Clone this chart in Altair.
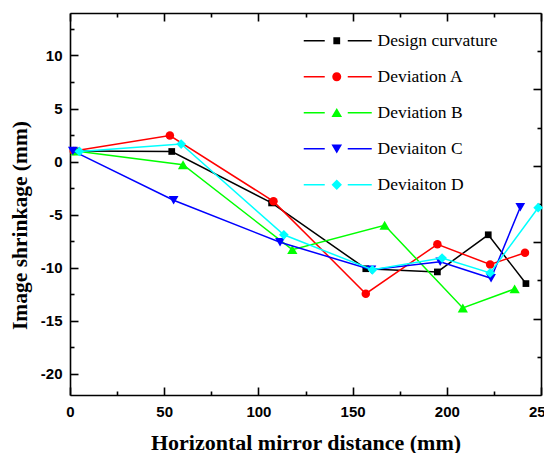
import altair as alt
import pandas as pd

# ---------------- data ----------------
series_names = ["Design curvature", "Deviation A", "Deviation B", "Deviaiton C", "Deviaiton D"]
series_colors = ["#000000", "#FF0000", "#00FF00", "#0000FF", "#00FFFF"]
series_shapes = ["square", "circle", "triangle-up", "triangle-down", "diamond"]
series_sizes = [45, 72, 105, 95, 95]

design_x = [3, 54, 107, 157, 195, 222, 242]
design_y = [1.0, 0.95, -3.9, -10.1, -10.4, -6.9, -11.5]
dev_a_x = [2, 53, 108, 157, 195, 223, 241.5]
dev_a_y = [1.0, 2.45, -3.75, -12.45, -7.8, -9.7, -8.6]
dev_b_x = [3, 60, 118, 167, 208.5, 236]
dev_b_y = [1.0, -0.3, -8.3, -6.0, -13.8, -12.0]
dev_c_x = [1.5, 55, 111.5, 160, 196.5, 223.5, 239]
dev_c_y = [1.0, -3.65, -7.6, -10.2, -9.45, -11.0, -4.3]
dev_d_x = [5, 59, 113.5, 160.5, 197.5, 223, 248.5]
dev_d_y = [0.95, 1.65, -6.9, -10.2, -9.1, -10.5, -4.35]

x_ticks = [0, 25, 50, 75, 100, 125, 150, 175, 200, 225, 250]
y_ticks_left = [-20, -17.5, -15, -12.5, -10, -7.5, -5, -2.5, 0, 2.5, 5, 7.5, 10, 12.5]
y_ticks_right = [-18.4, -14.8, -11.2, -7.6, -4.0, -0.4, 3.2, 6.8, 10.4]
y_major_right = [-14.8, -7.6, -0.4, 6.8]

x_domain = [0, 250]
y_domain = [-22, 14]

all_x = [design_x, dev_a_x, dev_b_x, dev_c_x, dev_d_x]
all_y = [design_y, dev_a_y, dev_b_y, dev_c_y, dev_d_y]

rows = []
for name, xs, ys in zip(series_names, all_x, all_y):
    for i, (xv, yv) in enumerate(zip(xs, ys)):
        rows.append({"series": name, "x": xv, "y": yv, "order": i})
df = pd.DataFrame(rows)


# ---------------- legend symbols (line + marker, all filled) ----------------
def legend_path(kind):
    lines = "M-33,-0.8H-12V0.8H-33ZM11,-0.8H35V0.8H11Z"
    if kind == "square":
        m = "M-3.4,-3.4H3.4V3.4H-3.4Z"
    elif kind == "circle":
        m = "M4.5,0A4.5,4.5,0,1,1,-4.5,0A4.5,4.5,0,1,1,4.5,0Z"
    elif kind == "triangle-up":
        m = "M0,-4.8L5.3,4.2L-5.3,4.2Z"
    elif kind == "triangle-down":
        m = "M0,4.8L5.3,-4.2L-5.3,-4.2Z"
    else:
        m = "M0,-5.2L5.2,0L0,5.2L-5.2,0Z"
    return lines + m


legend_paths = [legend_path(k) for k in series_shapes]

# ---------------- scales ----------------
x_scale = alt.Scale(domain=x_domain, nice=False, zero=False)
y_scale = alt.Scale(domain=y_domain, nice=False, zero=False)
color_scale = alt.Scale(domain=series_names, range=series_colors)
legend_shape_scale = alt.Scale(domain=series_names, range=legend_paths)

common_axis = dict(
    grid=False,
    domainColor="black",
    domainWidth=1.6,
    tickColor="black",
    tickWidth=1.6,
)

right_major_list = "[" + ",".join(str(v) for v in y_major_right) + "]"

x_bottom = alt.Axis(
    orient="bottom",
    values=x_ticks,
    tickSize={"expr": "datum.value % 50 === 0 ? -8 : -4"},
    labelExpr="datum.value % 50 === 0 ? '' + datum.value : ''",
    labelFont="Liberation Sans",
    labelFontWeight="bold",
    labelFontSize=15,
    labelColor="black",
    labelPadding=17,
    labelFlush=False,
    labelOverlap=False,
    title="Horizontal mirror distance (mm)",
    titleFont="Liberation Serif",
    titleFontSize=22,
    titleFontWeight="bold",
    titleColor="black",
    titleBaseline="alphabetic",
    titleY=54,
    **common_axis,
)
y_left = alt.Axis(
    orient="left",
    values=y_ticks_left,
    tickSize={"expr": "datum.value % 5 === 0 ? -8 : -4"},
    labelExpr="datum.value % 5 === 0 ? '' + datum.value : ''",
    labelFont="Liberation Sans",
    labelFontWeight="bold",
    labelFontSize=15,
    labelColor="black",
    labelPadding=16,
    labelFlush=False,
    labelOverlap=False,
    title="Image shrinkage (mm)",
    titleFont="Liberation Serif",
    titleFontSize=21.5,
    titleFontWeight="bold",
    titleColor="black",
    titleBaseline="alphabetic",
    titleAngle=270,
    titleX=-44,
    titleY=212,
    **common_axis,
)
x_top = alt.Axis(
    orient="top",
    values=x_ticks,
    tickSize={"expr": "datum.value % 50 === 0 ? -8 : -4"},
    labels=False,
    title=None,
    **common_axis,
)
y_right = alt.Axis(
    orient="right",
    values=y_ticks_right,
    tickSize={"expr": "indexof(" + right_major_list + ", datum.value) >= 0 ? -8 : -4"},
    labels=False,
    title=None,
    **common_axis,
)

base = alt.Chart(df)

layers = []
for k, (name, col, shp, sz) in enumerate(zip(series_names, series_colors, series_shapes, series_sizes)):
    sub = base.transform_filter(alt.datum.series == name)
    layers.append(
        sub.mark_line(strokeWidth=1.5, color=col).encode(
            x=alt.X("x:Q", scale=x_scale, axis=x_bottom if k == 0 else None),
            y=alt.Y("y:Q", scale=y_scale, axis=y_left if k == 0 else None),
            order=alt.Order("order:Q"),
        )
    )
    layers.append(
        sub.mark_point(filled=True, opacity=1, shape=shp, size=sz, color=col).encode(
            x=alt.X("x:Q", scale=x_scale, axis=x_top if k == 0 else None),
            y=alt.Y("y:Q", scale=y_scale, axis=y_right if k == 0 else None),
        )
    )

legend_props = dict(
    orient="none",
    legendX=258,
    legendY=19,
    title=None,
    labelFont="Liberation Serif",
    labelFontSize=17.5,
    labelColor="black",
    labelOffset=32,
    symbolSize=4,
    symbolStrokeWidth=0,
    symbolOpacity=1,
    rowPadding=17,
    padding=0,
)

legend_layer = (
    base.transform_filter("datum.x < -1000")
    .mark_point(filled=True, size=4, opacity=1)
    .encode(
        x=alt.X("x:Q", scale=x_scale, axis=None),
        y=alt.Y("y:Q", scale=y_scale, axis=None),
        color=alt.Color("series:N", scale=color_scale, legend=alt.Legend(**legend_props)),
        shape=alt.Shape("series:N", scale=legend_shape_scale, legend=alt.Legend(**legend_props)),
    )
)
layers.append(legend_layer)

chart = (
    alt.layer(*layers)
    .resolve_axis(x="independent", y="independent")
    .properties(
        width=471,
        height=382,
        autosize=alt.AutoSizeParams(type="none"),
        padding={"left": 62, "top": 5, "right": 3, "bottom": 58},
        background="white",
    )
    .configure_view(stroke=None)
)

chart.save("out.html", embed_options={"renderer": "svg", "actions": False})
